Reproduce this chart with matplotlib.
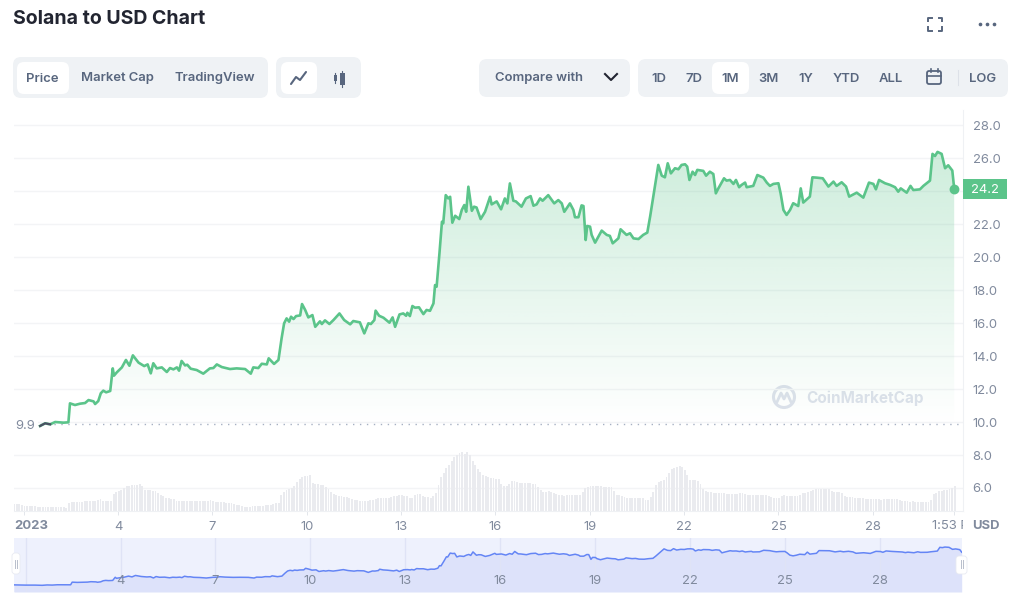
import numpy as np
import matplotlib
matplotlib.use('Agg')
import matplotlib.pyplot as plt
from matplotlib.patches import FancyBboxPatch, Circle, Rectangle, PathPatch
from matplotlib.path import Path
from matplotlib.transforms import Bbox

plt.rcParams['font.family'] = ['Inter', 'DejaVu Sans']

# price, day of month / usd
price_days = [
    1.52, 1.68, 1.84, 2.00, 2.26, 2.42, 2.47, 2.63, 2.79, 2.95, 3.06, 3.22, 3.27, 3.37, 3.45, 3.53, 3.62, 3.75,
    3.83, 3.87, 3.96, 4.12, 4.25, 4.36, 4.47, 4.65, 4.83, 4.94, 5.04, 5.12, 5.23, 5.39, 5.55, 5.65, 5.76, 5.87,
    5.94, 6.02, 6.13, 6.20, 6.31, 6.50, 6.71, 6.92, 7.03, 7.14, 7.30, 7.56, 7.77, 8.04, 8.22, 8.30, 8.46, 8.57,
    8.73, 8.79, 8.96, 9.10, 9.20, 9.28, 9.36, 9.44, 9.50, 9.58, 9.66, 9.79, 9.85, 9.95, 10.05, 10.18, 10.27,
    10.42, 10.48, 10.58, 10.72, 10.85, 11.04, 11.19, 11.38, 11.48, 11.69, 11.83, 11.96, 12.04, 12.15, 12.19,
    12.30, 12.44, 12.63, 12.73, 12.81, 12.95, 13.07, 13.16, 13.20, 13.28, 13.36, 13.44, 13.57, 13.71, 13.81,
    13.92, 14.03, 14.08, 14.13, 14.22, 14.30, 14.34, 14.42, 14.50, 14.56, 14.63, 14.72, 14.85, 14.93, 15.01,
    15.07, 15.14, 15.25, 15.32, 15.40, 15.53, 15.67, 15.83, 15.88, 16.04, 16.18, 16.30, 16.38, 16.46, 16.57,
    16.65, 16.83, 16.97, 17.12, 17.21, 17.31, 17.42, 17.50, 17.68, 17.87, 18.00, 18.11, 18.19, 18.37, 18.48,
    18.53, 18.64, 18.74, 18.80, 18.87, 18.92, 19.01, 19.06, 19.17, 19.38, 19.54, 19.64, 19.73, 19.91, 19.98,
    20.17, 20.28, 20.39, 20.55, 20.70, 20.83, 20.92, 21.07, 21.18, 21.29, 21.39, 21.48, 21.58, 21.71, 21.82,
    21.92, 22.03, 22.10, 22.17, 22.27, 22.35, 22.42, 22.61, 22.70, 22.82, 22.93, 23.01, 23.09, 23.27, 23.35,
    23.46, 23.57, 23.65, 23.75, 23.83, 23.94, 23.99, 24.20, 24.33, 24.52, 24.63, 24.73, 24.84, 25.00, 25.07,
    25.16, 25.26, 25.37, 25.47, 25.63, 25.71, 25.79, 26.00, 26.08, 26.22, 26.41, 26.59, 26.75, 26.85, 27.01,
    27.15, 27.25, 27.49, 27.70, 27.88, 28.02, 28.10, 28.20, 28.39, 28.55, 28.71, 28.81, 28.89, 29.08, 29.20,
    29.29, 29.50, 29.61, 29.82, 29.90, 29.98, 30.06, 30.19, 30.30, 30.40, 30.53, 30.59,
]
price_vals = [
    9.76, 9.92, 9.86, 10.0, 9.96, 9.98, 11.13, 11.03, 11.11, 11.15, 11.33, 11.25, 11.09, 11.27, 11.74, 11.90, 11.80, 11.88,
    13.25, 12.81, 13.01, 13.31, 13.76, 13.41, 14.04, 13.60, 13.39, 13.49, 12.95, 13.56, 13.25, 13.31, 13.03, 13.27, 13.19, 13.31,
    13.11, 13.70, 13.43, 13.47, 13.23, 13.15, 12.93, 13.25, 13.27, 13.49, 13.33, 13.21, 13.25, 13.21, 12.93, 13.31, 13.27, 13.53,
    13.49, 13.86, 13.52, 13.76, 15.07, 15.98, 16.28, 16.08, 16.38, 16.24, 16.42, 16.46, 17.15, 16.79, 16.34, 16.48, 15.77,
    16.10, 15.94, 16.16, 15.94, 16.18, 16.58, 16.18, 15.92, 16.12, 16.04, 15.37, 15.98, 15.94, 16.18, 16.75,
    16.44, 16.32, 16.02, 16.34, 15.77, 16.52, 16.58, 16.44, 16.62, 16.42, 17.03, 16.93, 16.95, 16.54, 16.79,
    16.74, 17.19, 18.30, 18.20, 20.22, 22.14, 22.04, 23.75, 23.55, 23.65, 22.08, 22.50, 22.30, 22.85, 23.15,
    22.74, 24.26, 22.80, 23.05, 23.00, 22.30, 22.74, 23.65, 23.19, 23.37, 22.89, 23.55, 23.25, 24.46, 23.41,
    23.37, 23.05, 23.55, 23.69, 23.11, 23.19, 23.55, 23.41, 23.75, 23.25, 23.45, 23.25, 22.74, 23.25, 22.85,
    22.41, 22.41, 23.13, 23.09, 21.03, 21.88, 21.84, 21.34, 20.87, 21.60, 21.34, 21.28, 20.83, 21.13, 21.68,
    21.34, 21.44, 21.13, 21.09, 21.34, 21.48, 22.45, 24.27, 25.58, 24.93, 24.83, 25.68, 25.07, 25.38, 25.32,
    25.58, 25.62, 25.48, 24.67, 25.17, 24.97, 25.28, 25.22, 24.93, 25.17, 25.03, 23.86, 24.16, 24.77, 24.63,
    24.67, 24.43, 24.67, 24.23, 24.37, 24.51, 24.23, 24.31, 24.97, 24.81, 24.51, 24.31, 24.43, 24.47, 23.86,
    22.85, 22.55, 22.85, 23.26, 23.09, 24.16, 23.30, 23.66, 24.83, 24.81, 24.77, 24.27, 24.57, 24.31, 24.53,
    24.27, 23.66, 23.90, 23.60, 24.51, 24.43, 24.10, 24.67, 24.47, 24.37, 24.23, 23.96, 24.16, 23.90, 24.31,
    24.06, 24.10, 24.31, 24.63, 26.25, 26.12, 26.37, 26.25, 25.38, 25.56, 25.24, 24.14,
]

# navigator has a bit more history on the left
nav_extra_days = [0.63, 1.0, 1.3]
nav_extra_vals = [9.95, 9.85, 9.85]

# 2 hour volume bars (relative)
volume = [
    7.5, 7.5, 7, 6, 5.5, 5.5, 5, 5, 5, 4.5, 4.5, 4.5, 4.5, 4.5, 4.5, 4.5, 4, 4.5, 4, 4, 3.5, 8,
    9, 9.5, 9.5, 9.5, 9.5, 10, 10, 10, 10.5, 10.5, 11, 12.5, 10, 10, 10, 10, 17, 19, 20, 21, 23, 25,
    25.5, 26, 26, 26.5, 27, 25, 21.5, 21, 21, 20.5, 20, 18, 16.5, 15, 13.5, 13, 12.5, 12,
    10.5, 10, 10, 10, 10, 10, 10, 10, 10, 10, 10, 10.5, 10.5, 11, 10, 9.5, 9.5, 9.5, 9, 8.5, 8.5, 8, 7.5,
    6.5, 6, 5, 4.5, 4, 4, 5, 5, 5, 5.5, 5.5, 6, 6, 6.5, 7.5, 8, 8.5, 16, 19, 21, 22, 23, 25, 29, 32, 34, 35,
    35.5, 35.7, 28, 27.5, 27, 26.5, 26, 24, 22, 19.5, 17.5, 16.5, 15.5,
    15, 14.5, 14, 13, 12.5, 11.5, 11, 10.5, 10, 10, 10.5, 11, 11.5, 12.5, 13, 13, 13, 13, 13.5, 14, 15, 15.5,
    16, 16, 15, 15, 13.5, 13.5, 16, 17, 17, 15.5, 14.5, 14, 13.5, 15, 18, 26, 34, 38, 42.7, 46, 50, 54, 56, 58,
    59, 57, 59, 56, 50, 46, 42, 39, 36, 35, 34, 33.5, 32.7, 32, 31.7, 27, 25, 25, 27, 30, 30, 29, 28, 28, 28,
    28.5, 28, 27.5, 27, 24, 21, 19.5, 19.5, 20, 19.5, 18, 17, 16.5, 16, 15.5, 16.5, 16.5, 16.5, 16.5, 16.5, 16.5,
    19, 23, 24.5, 25, 25, 25, 25, 25, 24.5, 24, 24, 24, 20, 16.5, 16, 15, 14, 13.5, 13.5, 13.5, 13.5, 13.3, 13, 13,
    11.5, 10.7, 14, 19, 26, 29, 30, 31, 34, 38, 42, 43, 44.5,
    45, 44, 41, 36, 31, 30.7, 30.7, 30.5, 27, 22, 20.5, 19.5, 19, 18, 18.5, 18, 18, 18, 17.5, 17.5, 17.5, 17.5, 17.5,
    18, 18, 17, 16, 15.7, 15.7, 15.7, 15.7, 15.7, 16, 15.7, 15, 14.5, 13.5, 13, 12.7, 15, 15.7, 15, 15, 15, 14.7, 15,
    16, 18, 18.5, 19.5, 20, 21.5, 21.7, 21.7, 21.7, 21.7, 21.7, 21.7, 20, 19, 19, 19, 18.5, 15, 14.5, 14, 14, 13.5, 13.5,
    13, 12.7, 12.3, 12, 12, 12.5, 12.5, 12, 11.5, 12, 12.5, 12.5, 12.5, 12.5, 12, 11.5, 10.5, 10, 10, 9.5, 10, 9.5, 9.5,
    9.3, 9.3, 9.3, 9.3, 11, 16.7, 18, 20, 20.5, 21, 21, 21.7, 23, 25,
]
vol_first_day = 0.69

y_ticks = [6, 8, 10, 12, 14, 16, 18, 20, 22, 24, 26, 28]
day_ticks = [4, 7, 10, 13, 16, 19, 22, 25, 28]
base_price = 9.9
last_price = 24.2

GREEN = '#5BC48A'
GREY = '#808A9D'
SLATE = '#58667E'
PILL = '#EFF2F5'
GRID = '#F3F4F6'
W, H = 1024, 602


def px_axes(left, top, right, bottom, **kw):
    return fig.add_axes([left / W, 1 - bottom / H, (right - left) / W, (bottom - top) / H], **kw)


def pill(x0, y0, x1, y1, color, r=8, z=1):
    ui.add_patch(FancyBboxPatch((x0, y0), x1 - x0, y1 - y0, boxstyle='round,pad=0,rounding_size=%g' % r,
                                fc=color, ec='none', zorder=z))


def label(x, y, s, size=9.4, color=SLATE, weight='semibold', ha='center', target=None):
    return (target or ui).text(x, y, s, fontsize=size, color=color, fontweight=weight, ha=ha, va='center', zorder=3)


fig = plt.figure(figsize=(W / 100, H / 100), dpi=100, facecolor='white')

# page furniture, in pixels
ui = px_axes(0, 0, W, H)
ui.set_xlim(0, W)
ui.set_ylim(H, 0)
ui.axis('off')

label(13, 19.5, 'Solana to USD Chart', size=14.05, color='#222531', weight='bold', ha='left')

pill(13, 57, 268, 98, PILL)
pill(17, 62, 69, 94, 'white', r=7, z=2)
label(42.5, 78.5, 'Price')
label(117, 78.5, 'Market Cap')
label(215, 78.5, 'TradingView')

pill(276, 57, 361, 98, PILL)
pill(281, 62, 317, 94, 'white', r=7, z=2)
ui.plot([291, 296, 300, 306], [84, 77, 80, 72], color=SLATE, lw=1.5, zorder=3, solid_capstyle='round')
for cx, y0, y1, bw in [(335, 73, 83, 3), (342, 71, 87, 5)]:
    ui.plot([cx, cx], [y0, y1], color=SLATE, lw=0.8, zorder=3)
    ui.add_patch(Rectangle((cx - bw / 2, y0 + 2), bw, y1 - y0 - 4, fc=SLATE, ec='none', zorder=3))

pill(479, 59, 630, 97, PILL)
label(539, 78.5, 'Compare with')
ui.plot([605, 611, 617], [74, 80, 74], color='#222531', lw=1.5, zorder=3)

pill(638, 59, 1008, 97, PILL)
pill(712, 62, 749, 94, 'white', r=7, z=2)
for cx, s in [(658.5, '1D'), (693.5, '7D'), (730, '1M'), (768.5, '3M'), (805.5, '1Y'), (846, 'YTD'), (891, 'ALL'),
              (982.5, 'LOG')]:
    label(cx, 78.5, s)
# calendar icon
ui.add_patch(FancyBboxPatch((927, 71), 14, 13, boxstyle='round,pad=0,rounding_size=2', fc='none', ec=SLATE, lw=1.3,
                            zorder=3))
ui.plot([927, 941], [75.5, 75.5], color=SLATE, lw=1.2, zorder=3)
ui.plot([930.5, 930.5], [69, 72], color=SLATE, lw=1.2, zorder=3)
ui.plot([937.5, 937.5], [69, 72], color=SLATE, lw=1.2, zorder=3)
ui.plot([958, 958], [70, 85], color='#DDE1E8', lw=0.8, zorder=3)

# fullscreen + menu
for sx, sy in [(-1, -1), (1, -1), (-1, 1), (1, 1)]:
    cx, cy = 935 + sx * 7, 24 + sy * 6.5
    ui.plot([cx - sx * 3.5, cx, cx], [cy, cy, cy - sy * 3.5], color=SLATE, lw=1.4, zorder=3)
ui.scatter([980, 987, 994], [24, 24, 24], s=7, color=SLATE, zorder=3, linewidths=0)

# main price panel
ax = px_axes(14, 110, 963, 511)
ax.set_xlim(0.69, 30.87)
ax.set_ylim(4.606, 28.91)
ax.patch.set_alpha(0)
for side in ['top', 'left']:
    ax.spines[side].set_visible(False)
ax.spines['right'].set_color('#EFF1F4')
ax.spines['bottom'].set_color('#EFF1F4')
ax.yaxis.tick_right()
ax.set_yticks(y_ticks)
# the 24.0 label sits under the last price badge
ax.set_yticklabels(['' if v == 24 else '%.1f' % v for v in y_ticks])
ax.set_xticks([1] + day_ticks + [30.59])
ax.set_xticklabels([''] + [str(d) for d in day_ticks] + [''])
ax.tick_params(axis='y', length=0, pad=7, labelsize=9.4, labelcolor=GREY)
ax.tick_params(axis='x', length=3, width=0.7, color='#E3E6EB', pad=4.5, labelsize=9.4, labelcolor=GREY)
ax.grid(axis='y', color=GRID, lw=1)
ax.set_axisbelow(True)

# watermark
ui.add_patch(Circle((784, 397), 10.5, fc='none', ec='#DDE1EB', lw=2.2, zorder=1.5))
ui.plot([777, 781, 784, 787, 791], [402, 393, 399, 393, 402], color='#DDE1EB', lw=2, zorder=1.5)
label(806, 398.5, 'CoinMarketCap', size=11, color='#DDE1EB', weight='bold', ha='left').set_zorder(1.5)

# green gradient below the line
poly_x = [price_days[0]] + price_days + [price_days[-1]]
poly_y = [base_price] + price_vals + [base_price]
clip = PathPatch(Path(np.column_stack([poly_x, poly_y])), transform=ax.transData, fc='none', ec='none')
ax.add_patch(clip)
grad = np.zeros((256, 2, 4))
grad[..., :3] = matplotlib.colors.to_rgb(GREEN)
grad[..., 3] = np.linspace(0.30, 0.0, 256)[:, None]
img = ax.imshow(grad, extent=[price_days[0], price_days[-1], base_price, 26.4], aspect='auto', origin='upper',
                zorder=1.5)
img.set_clip_path(clip)
ax.set_xlim(0.69, 30.87)
ax.set_ylim(4.606, 28.91)

ax.plot([1.52, 30.87], [base_price, base_price], color='#A6B0C3', lw=1, ls=(0, (1, 4)), zorder=2)
ax.plot(price_days, price_vals, color=GREEN, lw=1.9, zorder=3, solid_joinstyle='round')
ax.plot(price_days[:3], price_vals[:3], color='#4A4F63', lw=1.6, zorder=3.1)
ax.scatter([price_days[-1]], [price_vals[-1]], s=50, color=GREEN, zorder=4, linewidths=0, clip_on=False)

# volume bars share the panel
ax_vol = px_axes(14, 110, 963, 511)
ax_vol.set_xlim(0.69, 30.87)
ax_vol.set_ylim(0, 401)
ax_vol.axis('off')
vol_days = vol_first_day + np.arange(len(volume)) / 12
ax_vol.bar(vol_days, volume, width=1 / 12 * 0.72, color='#EAEBEF', linewidth=0)

# navigator strip
nav = px_axes(14, 538, 962, 592)
nav.set_xlim(0.63, 30.6)
nav.set_ylim(6.86, 30.3)
nav.set_facecolor('#EEF1FD')
for s in nav.spines.values():
    s.set_visible(False)
nav.set_xticks([])
nav.set_yticks([])
nav_x = nav_extra_days + price_days
nav_y = nav_extra_vals + price_vals
nav.fill_between(nav_x, nav_y, 6.86, color='#DDE2FA', lw=0)
for d in [1] + day_ticks:
    nav.axvline(d, color='#DFE3F6', lw=1, zorder=1)
nav.plot(nav_x, nav_y, color='#6485F5', lw=1.1, zorder=3)
for d in day_ticks:
    nav.text(d, 0.21, str(d), fontsize=9.4, color=GREY, ha='center', va='center',
             transform=nav.get_xaxis_transform(), zorder=4)

# top layer, labels around the panels and the navigator handles
ui2 = px_axes(0, 0, W, H)
ui2.set_xlim(0, W)
ui2.set_ylim(H, 0)
ui2.axis('off')

label(14, 526, '2023', color=GREY, weight='bold', ha='left', target=ui2)
t = label(932, 526, '1:53 P', color=GREY, weight='normal', ha='left', target=ui2)
t.set_clip_box(Bbox([[0, 0], [963, H]]))
t.set_clip_on(True)
label(972, 526, 'USD', color=GREY, weight='bold', ha='left', target=ui2)
ui2.add_patch(Rectangle((14, 417), 24, 14, fc='white', ec='none', zorder=2))
label(25.5, 426, '9.9', color=GREY, weight='normal', target=ui2)
ui2.add_patch(Rectangle((963, 179), 44, 20, fc=GREEN, ec='none', zorder=2))
label(985, 190, '%.1f' % last_price, color='white', weight='normal', target=ui2)

for x0, x1, y0, y1 in [(12, 20, 553, 574), (956, 967, 556, 574)]:
    ui2.add_patch(FancyBboxPatch((x0, y0), x1 - x0, y1 - y0, boxstyle='round,pad=0,rounding_size=3', fc='white',
                                 ec='#E8EAF2', lw=0.6))
    cx = (x0 + x1) / 2
    ui2.plot([cx - 1, cx - 1], [560, 568], color='#B8BECC', lw=0.7)
    ui2.plot([cx + 1, cx + 1], [560, 568], color='#B8BECC', lw=0.7)

fig.savefig('out.png', dpi=100)
